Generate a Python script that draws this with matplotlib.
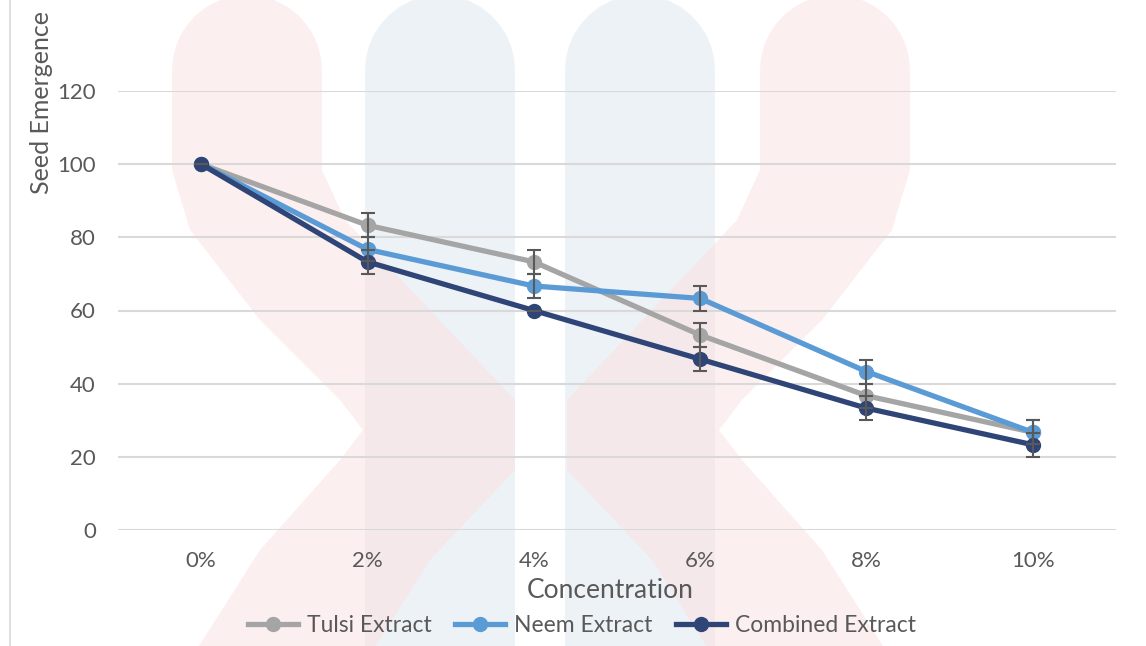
import numpy as np
import matplotlib.pyplot as plt
from matplotlib.patches import Polygon, Rectangle
from matplotlib.lines import Line2D

# data
concentrations = ['0%', '2%', '4%', '6%', '8%', '10%']
tulsi = [100, 83.3, 73.3, 53.3, 36.7, 26.7]
neem = [100, 76.7, 66.7, 63.3, 43.3, 26.7]
combined = [100, 73.3, 60.0, 46.7, 33.3, 23.3]
tulsi_err = [0, 3.3, 3.3, 3.3, 3.3, 3.3]
neem_err = [0, 3.3, 3.3, 3.3, 3.3, 3.3]
combined_err = [0, 3.3, 0, 3.3, 3.3, 3.3]
series_names = ['Tulsi Extract', 'Neem Extract', 'Combined Extract']
series_colors = ['#A5A5A5', '#5B9BD5', '#2F4577']

plt.rcParams['font.family'] = ['Lato', 'DejaVu Sans']
W, H = 1146, 646
fig = plt.figure(figsize=(W / 100, H / 100), dpi=100)


def px(x, y):
    return (x / W, 1 - y / H)


def rounded_top(x0, x1, ytop):
    # semicircle cap from left to right, pixel coords (y down)
    r = (x1 - x0) / 2
    t = np.linspace(np.pi, 0, 20)
    return [(x0 + r + r * np.cos(a), ytop + r - r * np.sin(a)) for a in t]


# faint watermark logo behind the chart
left_red = (rounded_top(172, 322, -5)
            + [(322, 170), (345, 220), (430, 310), (515, 400), (515, 470), (430, 560), (367, 660),
               (190, 660), (260, 550), (340, 460), (363, 430), (340, 400), (260, 320),
               (190, 230), (172, 170)])
right_red = [(1082 - x, y) for x, y in left_red]
blue_a = rounded_top(365, 515, -5) + [(515, 660), (365, 660)]
blue_b = rounded_top(565, 715, -5) + [(715, 660), (565, 660)]
shapes = [(blue_a, '#DCE7F1'), (blue_b, '#DCE7F1'),
          (left_red, '#FBE0E0'), (right_red, '#FBE0E0')]
for pts, col in shapes:
    fig.patches.append(Polygon([px(x, y) for x, y in pts], closed=True,
                               transform=fig.transFigure, facecolor=col, alpha=0.5,
                               edgecolor='none', zorder=-2))

fig.patches.append(Rectangle(px(10, 700), 2, 1 - 62 / H + 0.2, transform=fig.transFigure,
                             fill=False, edgecolor='#D9D9D9', lw=1.2, zorder=-1))

ax = fig.add_axes([118 / W, 1 - 530 / H, (1116 - 118) / W, (530 - 91) / H])
ax.set_facecolor('none')

x = list(range(len(concentrations)))
for vals, name, col in zip([tulsi, neem, combined], series_names, series_colors):
    ax.plot(x, vals, color=col, lw=3.8, marker='o', markersize=10,
            label=name, zorder=3, solid_capstyle='round')
for vals, errs in zip([tulsi, neem, combined], [tulsi_err, neem_err, combined_err]):
    ax.errorbar(x, vals, yerr=errs, fmt='none', ecolor='#595959', elinewidth=1.5,
                capsize=5, capthick=1.5, zorder=4)

ax.set_xlim(-0.5, 5.5)
ax.set_ylim(0, 120)
ax.set_yticks(range(0, 121, 20))
ax.set_xticks(x)
ax.set_xticklabels(concentrations)
ax.grid(axis='y', color='#D9D9D9', lw=1.5, zorder=1)
ax.set_axisbelow(True)
for s in ax.spines.values():
    s.set_visible(False)
ax.tick_params(axis='both', length=0, labelsize=16, labelcolor='#595959')
ax.tick_params(axis='y', pad=16)
ax.tick_params(axis='x', pad=15)

fig.text(*px(42, 103), 'Seed Emergence', rotation=90, ha='center', va='center',
         fontsize=18, color='#595959')
fig.text(*px(610, 590), 'Concentration', ha='center', va='center',
         fontsize=19, color='#595959')

handles = [Line2D([], [], color=c, lw=3.8, marker='o', markersize=10) for c in series_colors]
fig.legend(handles, series_names, loc='center', bbox_to_anchor=px(582, 626), ncol=3,
           frameon=False, fontsize=16.5, labelcolor='#595959', handlelength=2.2,
           handletextpad=0.4, columnspacing=1.0)

fig.savefig('out.png', dpi=100)
